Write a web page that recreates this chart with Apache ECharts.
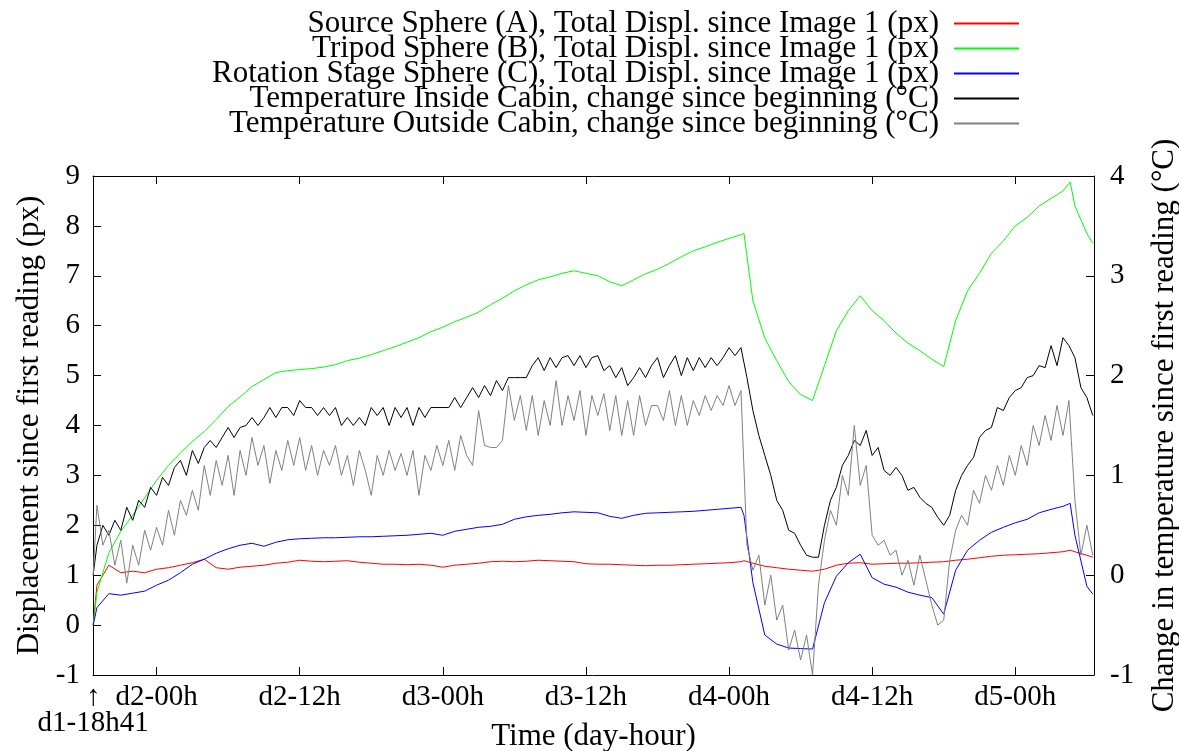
<!DOCTYPE html>
<html>
<head>
<meta charset="utf-8">
<script src="https://cdn.jsdelivr.net/npm/echarts@6/dist/echarts.min.js"></script>
<style>
html,body{margin:0;padding:0;background:#fff;}
#chart{width:1179px;height:751px;}
</style>
</head>
<body>
<div id="chart"></div>
<script>
// ---- Data (hours relative to d2-00h) ----
const seriesNames = [
  'Source Sphere (A), Total Displ. since Image 1 (px)',
  'Tripod Sphere (B), Total Displ. since Image 1 (px)',
  'Rotation Stage Sphere (C), Total Displ. since Image 1 (px)',
  'Temperature Inside Cabin, change since beginning (°C)',
  'Temperature Outside Cabin, change since beginning (°C)'
];
const xTickValues = [-5.3167, 0, 12, 24, 36, 48, 60, 72];
const xTickLabels = ['↑', 'd2-00h', 'd2-12h', 'd3-00h', 'd3-12h', 'd4-00h', 'd4-12h', 'd5-00h'];
const xStartValue = [-5.3167];
const xStartLabel = 'd1-18h41';

const hoursDispl = [-5.3167, -5, -4, -3, -2, -1, 0, 1, 2, 3, 4, 5, 6, 7, 8, 9, 10, 11, 12, 13, 14, 15, 16, 17, 18, 19, 20,
  21, 22, 23, 24, 25, 26, 27, 28, 29, 30, 31, 32, 33, 34, 35, 36, 37, 38, 39, 40, 41, 42, 43, 44, 45, 46, 47, 48, 49, 49.25,
  50, 51, 52, 53, 54, 55, 56, 57, 58, 59, 60, 61, 62, 63, 64, 65, 66, 67, 68, 69, 70, 71, 72, 73, 74, 75, 76, 76.6, 77, 78, 78.5];

const sphereA = [0, 0.8, 1.2, 1.05, 1.08, 1.05, 1.12, 1.15, 1.2, 1.25, 1.32, 1.15, 1.12, 1.16, 1.18, 1.2, 1.24, 1.26, 1.3, 1.28, 1.27,
  1.28, 1.29, 1.26, 1.24, 1.22, 1.22, 1.21, 1.22, 1.2, 1.16, 1.2, 1.22, 1.24, 1.27, 1.28, 1.27, 1.28, 1.3, 1.29, 1.28, 1.27,
  1.23, 1.22, 1.22, 1.21, 1.2, 1.19, 1.2, 1.2, 1.21, 1.22, 1.23, 1.24, 1.25, 1.27, 1.29,
  1.24, 1.18, 1.15, 1.12, 1.1, 1.08, 1.12, 1.2, 1.24, 1.25, 1.22, 1.23, 1.24, 1.24, 1.25, 1.26, 1.27, 1.3, 1.32, 1.35, 1.38,
  1.4, 1.41, 1.42, 1.43, 1.45, 1.47, 1.5, 1.47, 1.4, 1.36];

const sphereB = [0, 0.65, 1.45, 1.88, 2.2, 2.55, 2.9, 3.2, 3.45, 3.68, 3.88, 4.12, 4.38, 4.57, 4.78, 4.92, 5.06, 5.1, 5.12, 5.14, 5.17,
  5.22, 5.3, 5.35, 5.42, 5.5, 5.58, 5.67, 5.76, 5.88, 5.97, 6.08, 6.17, 6.27, 6.42, 6.55, 6.7, 6.82, 6.92, 6.98, 7.05, 7.1,
  7.05, 7.0, 6.88, 6.8, 6.92, 7.04, 7.13, 7.25, 7.38, 7.5, 7.58, 7.67, 7.75, 7.82, 7.85,
  6.5, 5.75, 5.3, 4.88, 4.62, 4.5, 5.2, 5.9, 6.3, 6.6, 6.3, 6.1, 5.85, 5.65, 5.5, 5.33, 5.18, 6.1, 6.7, 7.05, 7.45,
  7.7, 8.0, 8.17, 8.4, 8.55, 8.7, 8.88, 8.4, 7.85, 7.65];

const sphereC = [0, 0.35, 0.63, 0.6, 0.64, 0.68, 0.8, 0.9, 1.05, 1.22, 1.32, 1.44, 1.53, 1.6, 1.64, 1.58, 1.66, 1.71, 1.73, 1.74, 1.75,
  1.75, 1.76, 1.77, 1.77, 1.78, 1.79, 1.8, 1.82, 1.84, 1.8, 1.88, 1.92, 1.96, 1.98, 2.02, 2.12, 2.17, 2.2, 2.22, 2.25, 2.27,
  2.26, 2.25, 2.18, 2.14, 2.2, 2.24, 2.25, 2.26, 2.27, 2.28, 2.3, 2.32, 2.34, 2.36, 2.2,
  0.85, -0.2, -0.38, -0.46, -0.47, -0.48, 0.45, 0.98, 1.25, 1.42, 0.95, 0.82, 0.76, 0.66, 0.6, 0.55, 0.22, 1.1, 1.5, 1.7, 1.86,
  1.96, 2.05, 2.12, 2.25, 2.32, 2.38, 2.44, 1.8, 0.78, 0.62];

// temperature readings: first at -5.3167 h, then every half hour from -5 h to 78.5 h
const tempFirstHour = -5.3167;
const tempStartHour = -5;
const tempStepHours = 0.5;

const tempInside = [0.0,
  0.3, 0.5, 0.4, 0.55, 0.45, 0.68, 0.55, 0.75, 0.68, 0.88,
  0.8, 0.98, 0.9, 1.08, 1.15, 1.0, 1.25, 1.12, 1.28, 1.35,
  1.28, 1.38, 1.48, 1.38, 1.48, 1.5, 1.58, 1.5, 1.58, 1.68,
  1.58, 1.68, 1.68, 1.6, 1.75, 1.68, 1.68, 1.6, 1.68, 1.6,
  1.68, 1.5, 1.58, 1.5, 1.58, 1.5, 1.68, 1.6, 1.68, 1.5,
  1.68, 1.58, 1.68, 1.5, 1.68, 1.58, 1.68, 1.68, 1.68, 1.68,
  1.78, 1.68, 1.78, 1.88, 1.78, 1.9, 1.8, 1.95, 1.85, 1.98,
  1.98, 1.98, 1.98, 2.1, 2.18, 2.05, 2.18, 2.08, 2.18, 2.2,
  2.1, 2.2, 2.08, 2.18, 2.2, 2.05, 2.1, 1.98, 2.08, 1.9,
  1.98, 2.08, 1.98, 2.1, 2.18, 1.98, 2.1, 2.2, 2.0, 2.18,
  2.05, 2.18, 2.08, 2.18, 2.1, 2.18, 2.28, 2.2, 2.28, 1.98,
  1.65, 1.4, 1.2, 1.0, 0.75, 0.65, 0.45, 0.42, 0.3, 0.2,
  0.18, 0.18, 0.5, 0.75, 0.88, 1.1, 1.2, 1.35, 1.3, 1.45,
  1.2, 1.28, 1.05, 1.0, 1.08, 1.0, 0.85, 0.88, 0.78, 0.72,
  0.68, 0.58, 0.5, 0.6, 0.85, 1.0, 1.1, 1.18, 1.38, 1.45,
  1.48, 1.68, 1.65, 1.78, 1.85, 1.88, 1.98, 2.0, 2.1, 2.08,
  2.3, 2.1, 2.38, 2.3, 2.18, 1.88, 1.78, 1.6];

const tempOutside = [0.0,
  0.7, 0.3, 0.45, 0.1, 0.35, -0.08, 0.3, 0.1, 0.45, 0.25,
  0.48, 0.3, 0.65, 0.4, 0.75, 0.6, 0.85, 0.65, 1.1, 0.8,
  1.15, 0.9, 1.2, 0.8, 1.25, 1.0, 1.38, 1.1, 1.3, 0.92,
  1.25, 1.05, 1.35, 1.1, 1.38, 1.05, 1.3, 1.0, 1.25, 1.1,
  1.3, 1.0, 1.2, 0.9, 1.25, 1.05, 0.8, 1.2, 1.0, 1.25,
  1.05, 1.22, 1.0, 1.25, 0.8, 1.2, 1.05, 1.3, 1.1, 1.35,
  1.05, 1.4, 1.2, 1.1, 1.65, 1.3, 1.28, 1.28, 1.35, 1.9,
  1.55, 1.8, 1.45, 1.8, 1.4, 1.75, 1.5, 1.95, 1.5, 1.8,
  1.55, 1.85, 1.4, 1.8, 1.6, 1.82, 1.45, 1.8, 1.4, 1.75,
  1.4, 1.8, 1.5, 1.7, 1.7, 1.55, 1.85, 1.5, 1.8, 1.5,
  1.75, 1.6, 1.8, 1.65, 1.8, 1.7, 1.9, 1.7, 1.85, 0.3,
  0.05, 0.2, -0.3, 0.0, -0.45, -0.3, -0.75, -0.55, -0.85, -0.6,
  -1.0, -0.1, 0.35, 0.65, 0.5, 1.0, 0.8, 1.5, 0.9, 1.1,
  0.4, 0.3, 0.35, 0.2, 0.25, 0.0, 0.15, -0.1, 0.2, -0.05,
  -0.3, -0.5, -0.45, 0.15, 0.45, 0.6, 0.5, 0.85, 0.72, 1.0,
  0.85, 1.1, 0.9, 1.2, 1.0, 1.3, 1.1, 1.5, 1.3, 1.6,
  1.35, 1.7, 1.4, 1.75, 0.75, 0.2, 0.5, 0.2];

// ---- Build option ----
function tempHours(n) {
  const h = [tempFirstHour];
  for (let i = 1; i < n; i++) h.push(tempStartHour + (i - 1) * tempStepHours);
  return h;
}
function pairs(xs, ys) { return ys.map((y, i) => [xs[i], y]); }

const hoursIn = tempHours(tempInside.length);
const hoursOut = tempHours(tempOutside.length);

const FONT = 'Liberation Serif';
const FS = 31;      // legend & axis names
const FS_TICK = 29; // tick labels
const colors = ['#ff0000', '#00ff00', '#0000ff', '#000000', '#808080'];

const xMin = -5.33, xMax = 78.6;

function lineSeries(i, data, yAxisIndex) {
  return {
    name: seriesNames[i], type: 'line', data: data, yAxisIndex: yAxisIndex,
    showSymbol: false, symbol: 'none', sampling: null, animation: false,
    lineStyle: { color: colors[i], width: 1 }, itemStyle: { color: colors[i] },
    emphasis: { disabled: true }, z: 2 + i
  };
}

const legends = seriesNames.map((n, i) => ({
  data: [n], right: 159, top: 8 + 25 * i, orient: 'horizontal', align: 'right',
  itemWidth: 65, itemHeight: 14, padding: 0, selectedMode: false,
  itemStyle: { opacity: 0 },
  textStyle: { fontFamily: FONT, fontSize: FS, color: '#000', padding: [0, 10, 0, 0], lineHeight: 25 }
}));

function labelFor(v) {
  for (let i = 0; i < xTickValues.length; i++) if (Math.abs(xTickValues[i] - v) < 1e-3) return xTickLabels[i];
  return '';
}

const option = {
  backgroundColor: '#fff',
  animation: false,
  legend: legends,
  grid: { left: 93, right: 85, top: 176, bottom: 76, containLabel: false, outerBoundsMode: 'none' },
  xAxis: [
    {
      type: 'value', position: 'bottom', min: xMin, max: xMax,
      name: 'Time (day-hour)', nameLocation: 'middle', nameGap: 46,
      nameTextStyle: { fontFamily: FONT, fontSize: FS, color: '#000' },
      axisLine: { show: true, onZero: false, lineStyle: { color: '#000', width: 1 } },
      axisTick: { show: true, inside: true, length: 8, customValues: xTickValues, lineStyle: { color: '#000' } },
      axisLabel: {
        show: true, customValues: xTickValues, margin: 8, showMinLabel: true, hideOverlap: false,
        fontFamily: FONT, fontSize: FS_TICK, color: '#000',
        formatter: labelFor
      },
      splitLine: { show: false }
    },
    {
      type: 'value', position: 'top', min: xMin, max: xMax,
      axisLine: { show: true, onZero: false, lineStyle: { color: '#000', width: 1 } },
      axisTick: { show: true, inside: true, length: 8, customValues: xTickValues, lineStyle: { color: '#000' } },
      axisLabel: { show: false },
      splitLine: { show: false }
    },
    {
      type: 'value', position: 'bottom', offset: 26, min: xMin, max: xMax,
      axisLine: { show: false }, axisTick: { show: false },
      axisLabel: {
        show: true, customValues: xStartValue, margin: 8, showMinLabel: true, hideOverlap: false,
        fontFamily: FONT, fontSize: FS_TICK, color: '#000',
        formatter: function () { return xStartLabel; }
      },
      splitLine: { show: false }
    }
  ],
  yAxis: [
    {
      type: 'value', position: 'left', min: -1, max: 9, interval: 1,
      name: 'Displacement since first reading (px)', nameLocation: 'middle', nameGap: 48, nameRotate: 90,
      nameTextStyle: { fontFamily: FONT, fontSize: FS, color: '#000' },
      axisLine: { show: true, onZero: false, lineStyle: { color: '#000', width: 1 } },
      axisTick: { show: true, inside: true, length: 8, lineStyle: { color: '#000' } },
      axisLabel: { margin: 13, fontFamily: FONT, fontSize: FS_TICK, color: '#000' },
      splitLine: { show: false }
    },
    {
      type: 'value', position: 'right', min: -1, max: 4, interval: 1,
      name: 'Change in temperature since first reading (°C)', nameLocation: 'middle', nameGap: 55, nameRotate: 90,
      nameTextStyle: { fontFamily: FONT, fontSize: FS, color: '#000' },
      axisLine: { show: true, onZero: false, lineStyle: { color: '#000', width: 1 } },
      axisTick: { show: true, inside: true, length: 8, lineStyle: { color: '#000' } },
      axisLabel: { margin: 16, fontFamily: FONT, fontSize: FS_TICK, color: '#000' },
      splitLine: { show: false }
    }
  ],
  series: [
    lineSeries(0, pairs(hoursDispl, sphereA), 0),
    lineSeries(1, pairs(hoursDispl, sphereB), 0),
    lineSeries(2, pairs(hoursDispl, sphereC), 0),
    lineSeries(3, pairs(hoursIn, tempInside), 1),
    lineSeries(4, pairs(hoursOut, tempOutside), 1)
  ]
};

const chart = echarts.init(document.getElementById('chart'), null, { renderer: 'canvas' });
chart.setOption(option);
</script>
</body>
</html>
